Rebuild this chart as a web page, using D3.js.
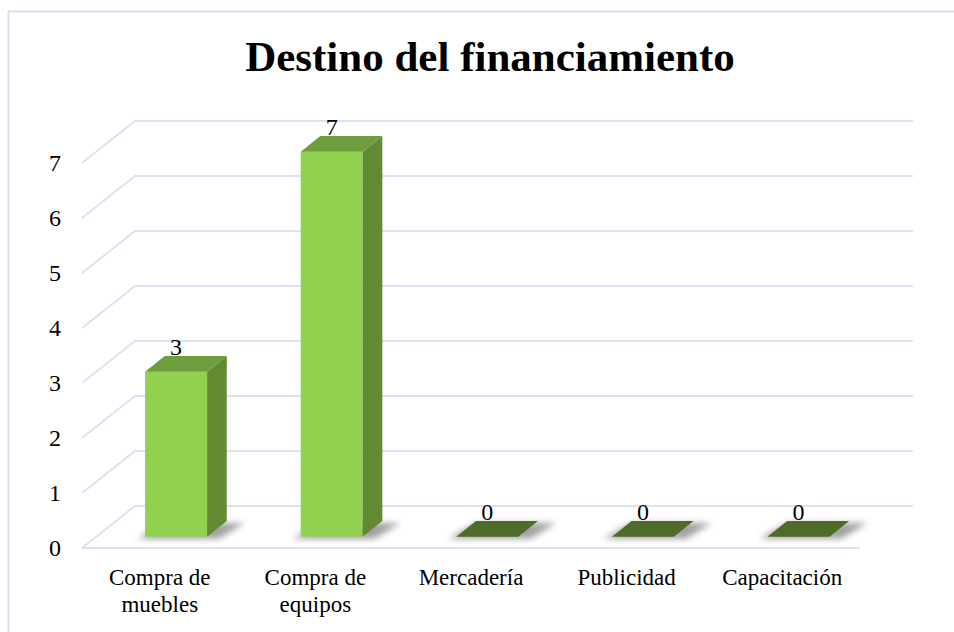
<!DOCTYPE html>
<html>
<head>
<meta charset="utf-8">
<script src="https://cdn.jsdelivr.net/npm/d3@7"></script>
<style>
  body { margin: 0; background: #fff; }
  text { font-family: "Liberation Serif", "Times New Roman", serif; fill: #000; }
</style>
</head>
<body>
<div id="container"></div>
<script>
// chart data
const categories = ["Compra de muebles", "Compra de equipos", "Mercadería", "Publicidad", "Capacitación"]
const labelLines = [["Compra de", "muebles"], ["Compra de", "equipos"], ["Mercadería"], ["Publicidad"], ["Capacitación"]]
const values = [3, 7, 0, 0, 0]
const yTicks = [0, 1, 2, 3, 4, 5, 6, 7]

const width = 954, height = 632

const svg = d3.select("#container").append("svg")
  .attr("width", width)
  .attr("height", height)

// soft shadow under the bars
const defs = svg.append("defs")
defs.append("filter").attr("id", "blur")
  .attr("x", "-50%").attr("y", "-100%").attr("width", "200%").attr("height", "300%")
  .append("feGaussianBlur").attr("stdDeviation", 3)

// outer chart frame
svg.append("rect")
  .attr("x", 8.5).attr("y", 11.5)
  .attr("width", 960).attr("height", 640)
  .attr("fill", "none").attr("stroke", "#d5dff0").attr("stroke-width", 2)

svg.append("text")
  .attr("x", 490).attr("y", 71)
  .attr("text-anchor", "middle")
  .style("font-size", "43px").style("font-weight", "bold")
  .text("Destino del financiamiento")

// 3d geometry: front plane of floor and the offset to the back wall
const floorLeft = 82, floorRight = 860
const depthX = 53, depthY = -42

const x = d3.scaleBand().domain(categories).range([floorLeft, floorRight])
const y = d3.scaleLinear().domain([0, 7]).range([548, 163])

// gridlines: diagonal on the side wall, then horizontal on the back wall
const grid = svg.append("g")
grid.selectAll("path.grid")
  .data(yTicks)
  .enter()
  .append("path")
    .attr("class", "grid")
    .attr("d", d => `M${floorLeft},${y(d)} L${floorLeft + depthX},${y(d) + depthY} L${floorRight + depthX},${y(d) + depthY}`)
    .attr("fill", "none")
    .attr("stroke", "#dae3f3")
    .attr("stroke-width", 2)

// front edge of the floor
grid.append("line")
  .attr("x1", floorLeft).attr("x2", floorRight)
  .attr("y1", y(0)).attr("y2", y(0))
  .attr("stroke", "#dae3f3").attr("stroke-width", 2)

// y tick labels
svg.selectAll("text.tick")
  .data(yTicks)
  .enter()
  .append("text")
    .attr("class", "tick")
    .attr("x", 61)
    .attr("y", d => y(d) + 8)
    .attr("text-anchor", "end")
    .style("font-size", "24px")
    .text(d => d)

// bars
const barW = 62
const f0 = 0.27, f1 = 0.64  // depth fractions of the bar front and back
const sideX = (f1 - f0) * depthX, sideY = (f1 - f0) * depthY

const bars = categories.map((c, i) => {
  const left = x(c) + (x.bandwidth() - barW) / 2 + f0 * depthX + 2
  const base = y(0) + f0 * depthY
  const h = y(0) - y(values[i])
  return { c: c, v: values[i], left: left, base: base, top: base - h }
})

const bg = svg.append("g")

// shadows
bg.selectAll("path.shadow")
  .data(bars)
  .enter()
  .append("path")
    .attr("class", "shadow")
    .attr("d", d => `M${d.left - 8},${d.base + 2} L${d.left + barW + 12},${d.base + 2} L${d.left + barW + sideX + 18},${d.base + sideY + 2} L${d.left + sideX},${d.base + sideY + 2} Z`)
    .attr("fill", "#555")
    .attr("opacity", 0.55)
    .attr("filter", "url(#blur)")

// front face
bg.selectAll("rect.front")
  .data(bars.filter(d => d.v > 0))
  .enter()
  .append("rect")
    .attr("class", "front")
    .attr("x", d => d.left)
    .attr("y", d => d.top)
    .attr("width", barW)
    .attr("height", d => d.base - d.top)
    .attr("fill", "#92d050")

// side face
bg.selectAll("path.side")
  .data(bars.filter(d => d.v > 0))
  .enter()
  .append("path")
    .attr("class", "side")
    .attr("d", d => `M${d.left + barW},${d.top} L${d.left + barW + sideX},${d.top + sideY} L${d.left + barW + sideX},${d.base + sideY} L${d.left + barW},${d.base} Z`)
    .attr("fill", "#618a32")

// top face
bg.selectAll("path.top")
  .data(bars)
  .enter()
  .append("path")
    .attr("class", "top")
    .attr("d", d => `M${d.left},${d.top} L${d.left + barW},${d.top} L${d.left + barW + sideX},${d.top + sideY} L${d.left + sideX},${d.top + sideY} Z`)
    .attr("fill", d => d.v > 0 ? "#6f9c3c" : "#4f6b29")

// value labels
svg.selectAll("text.value")
  .data(bars)
  .enter()
  .append("text")
    .attr("class", "value")
    .attr("x", d => d.left + barW / 2)
    .attr("y", d => d.top + sideY - 1)
    .attr("text-anchor", "middle")
    .style("font-size", "24px")
    .text(d => d.v)

// category labels
svg.selectAll("text.cat")
  .data(categories)
  .enter()
  .append("text")
    .attr("class", "cat")
    .attr("x", d => x(d) + x.bandwidth() / 2)
    .attr("y", 585)
    .attr("text-anchor", "middle")
    .style("font-size", "23px")
    .each(function(d, i) {
      d3.select(this).selectAll("tspan")
        .data(labelLines[i])
        .enter()
        .append("tspan")
          .attr("x", x(d) + x.bandwidth() / 2)
          .attr("dy", (l, j) => j === 0 ? 0 : 27)
          .text(l => l)
    })
</script>
</body>
</html>
